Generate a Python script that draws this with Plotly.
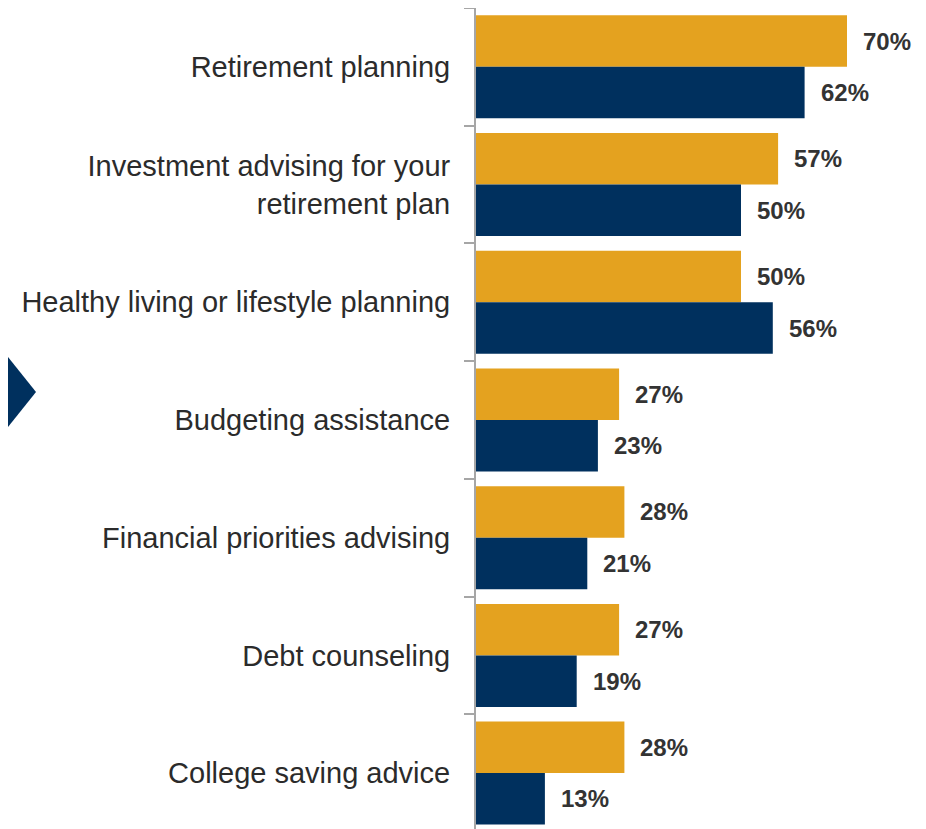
import plotly.graph_objects as go

categories = [
    "Retirement planning",
    "Investment advising for your<br>retirement plan",
    "Healthy living or lifestyle planning",
    "Budgeting assistance",
    "Financial priorities advising",
    "Debt counseling",
    "College saving advice",
]
series_gold = [70, 57, 50, 27, 28, 27, 28]
series_navy = [62, 50, 56, 23, 21, 19, 13]

GOLD = "#E4A21F"
NAVY = "#00305E"
FONT = "Liberation Sans, Arial, sans-serif"

OFF = 8  # page body offset
W, H = 926 - OFF, 829 - OFF
ML, MR, MT, MB = 476 - OFF, 10, 0, 0
PW = W - ML - MR
PH = H - MT - MB

fig = go.Figure()
fig.add_trace(go.Bar(y=categories, x=series_gold, orientation="h",
                     marker=dict(color=GOLD, line=dict(width=0)), name="A"))
fig.add_trace(go.Bar(y=categories, x=series_navy, orientation="h",
                     marker=dict(color=NAVY, line=dict(width=0)), name="B"))

band_px = PH / 6.975
bargap = 0.125
off_px = (1 - bargap) / 4 * band_px

annotations = []
for cat, g, n in zip(categories, series_gold, series_navy):
    for val, ys in ((g, off_px), (n, -off_px)):
        annotations.append(dict(
            x=val, y=cat, xref="x", yref="y", text=f"<b>{val}%</b>",
            showarrow=False, xanchor="left", yanchor="middle",
            xshift=14, yshift=ys,
            font=dict(family=FONT, size=24, color="#333333")))

def px_x(p):
    return (p - OFF - ML) / PW

def px_y(p):
    return 1 - (p - OFF - MT) / PH

path = (f"M {px_x(-20)},{px_y(322)} L {px_x(36)},{px_y(392)} "
        f"L {px_x(-20)},{px_y(462)} Z")

fig.update_layout(
    width=W, height=H,
    margin=dict(l=ML, r=MR, t=MT, b=MB, pad=0),
    paper_bgcolor="white", plot_bgcolor="white",
    barmode="group", bargap=bargap, bargroupgap=0,
    showlegend=False,
    annotations=annotations,
    shapes=[dict(type="path", xref="paper", yref="paper", path=path,
                 fillcolor=NAVY, line=dict(width=0), layer="above")],
    xaxis=dict(range=[0, PW / 5.3], visible=False, showgrid=False, zeroline=False),
    yaxis=dict(
        range=[6.475, -0.5], type="category",
        showline=True, linecolor="#A6A6A6", linewidth=2,
        ticks="outside", tickson="boundaries", ticklen=10,
        tickcolor="#A6A6A6", tickwidth=2,
        ticklabelstandoff=18,
        showgrid=False, zeroline=False,
        tickfont=dict(family=FONT, size=29, color="#2B2B2B"),
    ),
)

fig.write_html("out.html")
